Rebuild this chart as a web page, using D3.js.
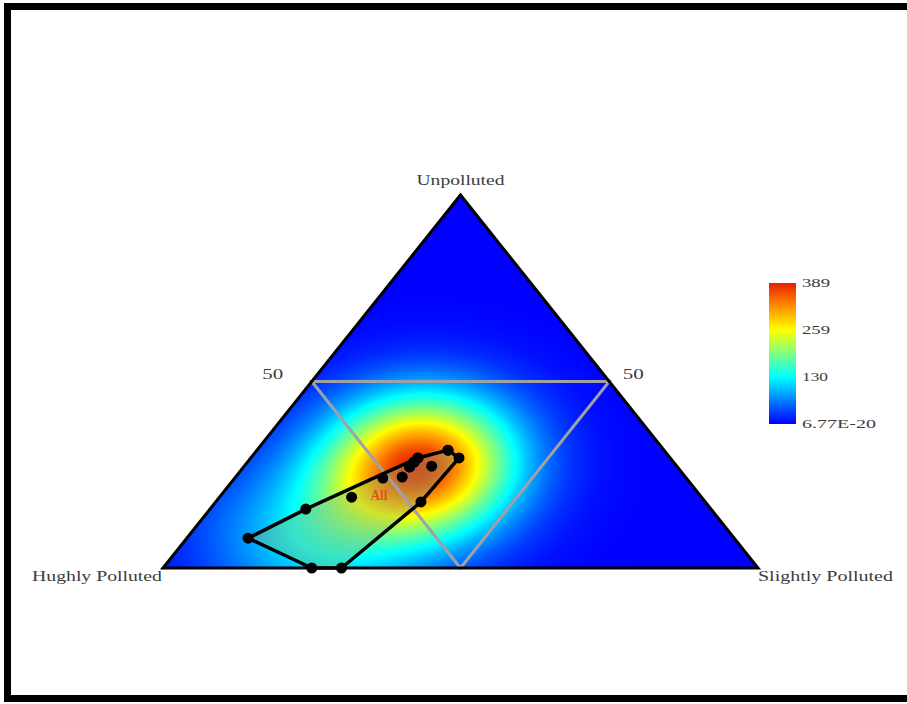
<!DOCTYPE html>
<html>
<head>
<meta charset="utf-8">
<script src="https://cdn.jsdelivr.net/npm/d3@7"></script>
<style>
  body { margin: 0; background: #fff; }
  svg { display: block; }
  .lbl { font-family: "Liberation Serif", "DejaVu Serif", serif; fill: #3c3c3c; }
</style>
</head>
<body>
<div id="chart"></div>
<script>
// ============== Data ==============
// samples in ternary % : Unpolluted / Highly Polluted / Slightly Polluted
// (several samples in the core cluster overlap each other)
const unpolluted = [31.6, 29.5, 29.5, 27.3, 28.4, 27.1, 24.4, 24.1,
                    29.5, 27.1, 28.4, 31.6,
                    19.0, 15.8,  8.0,  0.0,  0.0, 17.7];
const highly     = [36.3, 35.5, 42.4, 41.2, 43.6, 45.0, 47.6, 51.0,
                    42.4, 45.0, 43.6, 36.3,
                    58.8, 68.1, 81.7, 75.0, 70.0, 47.8];
const slightly   = [32.1, 35.0, 28.1, 31.5, 28.0, 27.9, 28.0, 24.9,
                    28.1, 27.9, 28.0, 32.1,
                    22.2, 16.1, 10.3, 25.0, 30.0, 34.5];

const cornerLabels = ['Unpolluted', 'Hughly Polluted', 'Slightly Polluted'];
const gridLabels = ['50', '50'];
const groupLabel = 'All';
const groupLabelPos = [19.6, 53.9, 26.5];

const legendTicks = [6.77e-20, 130, 259, 389];
const legendTickLabels = ['6.77E-20', '130', '259', '389'];
const densityMax = 389;

const W = 907, H = 704;

const svg = d3.select('#chart')
  .append('svg')
  .attr('width', W)
  .attr('height', H);

// frame
svg.append('rect')
  .attr('x', 7.5).attr('y', 6.5)
  .attr('width', 910).attr('height', 692)
  .attr('fill', '#fff')
  .attr('stroke', '#000')
  .attr('stroke-width', 7);

// ============== Scales ==============
const x = d3.scaleLinear().domain([0, 100]).range([163, 758]);
const y = d3.scaleLinear().domain([0, 100]).range([568, 195]);
const proj = (a, b, c) => [x(c + a / 2), y(a)];

const corners = [proj(100, 0, 0), proj(0, 100, 0), proj(0, 0, 100)];
const mids = [proj(50, 50, 0), proj(50, 0, 50), proj(0, 50, 50)];

const color = d3.scaleLinear()
  .domain([0, 65, 130, 195, 259, 324, 389])
  .range(['#0000ff', '#0080ff', '#00ffff', '#80ff80', '#ffff00', '#ff9000', '#e82000'])
  .clamp(true);

const pts = unpolluted.map((a, i) => proj(a, highly[i], slightly[i]));

// ============== Density (KDE) ==============
const x0 = Math.floor(corners[1][0]), y0 = Math.floor(corners[0][1]);
const cw = Math.ceil(corners[2][0]) - x0 + 1, ch = Math.ceil(corners[1][1]) - y0 + 1;
const bwx = 62, bwy = 48;
const grid = new Float32Array(cw * ch);
let gmax = 0;
for (let j = 0; j < ch; j++) {
  for (let i = 0; i < cw; i++) {
    const px = x0 + i, py = y0 + j;
    let s = 0;
    pts.forEach(p => {
      const dx = (px - p[0]) / bwx, dy = (py - p[1]) / bwy;
      s += Math.exp(-(dx * dx + dy * dy) / 2);
    });
    grid[j * cw + i] = s;
    if (s > gmax) gmax = s;
  }
}
const canvas = document.createElement('canvas');
canvas.width = cw; canvas.height = ch;
const ctx = canvas.getContext('2d');
const img = ctx.createImageData(cw, ch);
for (let k = 0; k < grid.length; k++) {
  const c = d3.rgb(color(grid[k] / gmax * densityMax));
  img.data[k * 4] = c.r; img.data[k * 4 + 1] = c.g; img.data[k * 4 + 2] = c.b; img.data[k * 4 + 3] = 255;
}
ctx.putImageData(img, 0, 0);

const defs = svg.append('defs');
defs.append('clipPath').attr('id', 'tri')
  .append('path').attr('d', 'M' + corners.join('L') + 'Z');

svg.append('image')
  .attr('x', x0).attr('y', y0)
  .attr('width', cw).attr('height', ch)
  .attr('preserveAspectRatio', 'none')
  .attr('href', canvas.toDataURL())
  .attr('clip-path', 'url(#tri)');

// ============== Hull ==============
const hull = d3.polygonHull(pts);
svg.append('path')
  .attr('d', 'M' + hull.join('L') + 'Z')
  .attr('fill', '#8ab870')
  .attr('fill-opacity', 0.38);

// ============== Grid lines ==============
svg.append('path')
  .attr('d', 'M' + mids.join('L') + 'Z')
  .attr('fill', 'none')
  .attr('stroke', '#a0a0a8')
  .attr('stroke-width', 3);

svg.append('path')
  .attr('d', 'M' + corners.join('L') + 'Z')
  .attr('fill', 'none')
  .attr('stroke', '#000')
  .attr('stroke-width', 3)
  .attr('stroke-linejoin', 'miter');

svg.append('path')
  .attr('d', 'M' + hull.join('L') + 'Z')
  .attr('fill', 'none')
  .attr('stroke', '#000')
  .attr('stroke-width', 3.5)
  .attr('stroke-linejoin', 'round');

svg.selectAll('.pt')
  .data(pts)
  .enter()
  .append('circle')
  .attr('class', 'pt')
  .attr('cx', d => d[0])
  .attr('cy', d => d[1])
  .attr('r', 5.5)
  .attr('fill', '#000');

// ============== Labels ==============
const gp = proj(...groupLabelPos);
svg.append('text')
  .text(groupLabel)
  .attr('class', 'lbl')
  .attr('x', gp[0]).attr('y', gp[1] + 5)
  .attr('text-anchor', 'middle')
  .attr('font-size', 14)
  .attr('font-weight', 'bold')
  .attr('textLength', 17)
  .attr('lengthAdjust', 'spacingAndGlyphs')
  .style('fill', '#e8501a');

const cornerText = [
  {t: cornerLabels[0], x: corners[0][0], y: corners[0][1] - 10, anchor: 'middle', len: 88},
  {t: cornerLabels[1], x: 32, y: corners[1][1] + 13, anchor: 'start', len: 130},
  {t: cornerLabels[2], x: 758, y: corners[2][1] + 13, anchor: 'start', len: 135},
  {t: gridLabels[0], x: mids[0][0] - 39, y: mids[0][1] - 3, anchor: 'middle', len: 21},
  {t: gridLabels[1], x: mids[1][0] + 24, y: mids[1][1] - 3, anchor: 'middle', len: 21}
];
svg.selectAll('.corner')
  .data(cornerText)
  .enter()
  .append('text')
  .attr('class', 'lbl corner')
  .text(d => d.t)
  .attr('x', d => d.x)
  .attr('y', d => d.y)
  .attr('text-anchor', d => d.anchor)
  .attr('font-size', 14)
  .attr('textLength', d => d.len)
  .attr('lengthAdjust', 'spacingAndGlyphs');

// ============== Legend ==============
const ly = d3.scaleLinear().domain([0, densityMax]).range([424, 283]);
const grad = defs.append('linearGradient')
  .attr('id', 'lg')
  .attr('x1', 0).attr('y1', 1).attr('x2', 0).attr('y2', 0);
grad.selectAll('stop')
  .data(color.domain())
  .enter()
  .append('stop')
  .attr('offset', d => d / densityMax)
  .attr('stop-color', d => color(d));

svg.append('rect')
  .attr('x', 769).attr('y', ly(densityMax))
  .attr('width', 27).attr('height', ly(0) - ly(densityMax))
  .attr('fill', 'url(#lg)');

const tickLen = {'6.77E-20': 74, '130': 26, '259': 28, '389': 28};
svg.selectAll('.tick-lbl')
  .data(legendTicks)
  .enter()
  .append('text')
  .attr('class', 'lbl tick-lbl')
  .text((d, i) => legendTickLabels[i])
  .attr('x', 802)
  .attr('y', d => ly(d) + 4)
  .attr('font-size', 12)
  .attr('textLength', (d, i) => tickLen[legendTickLabels[i]])
  .attr('lengthAdjust', 'spacingAndGlyphs');
</script>
</body>
</html>
